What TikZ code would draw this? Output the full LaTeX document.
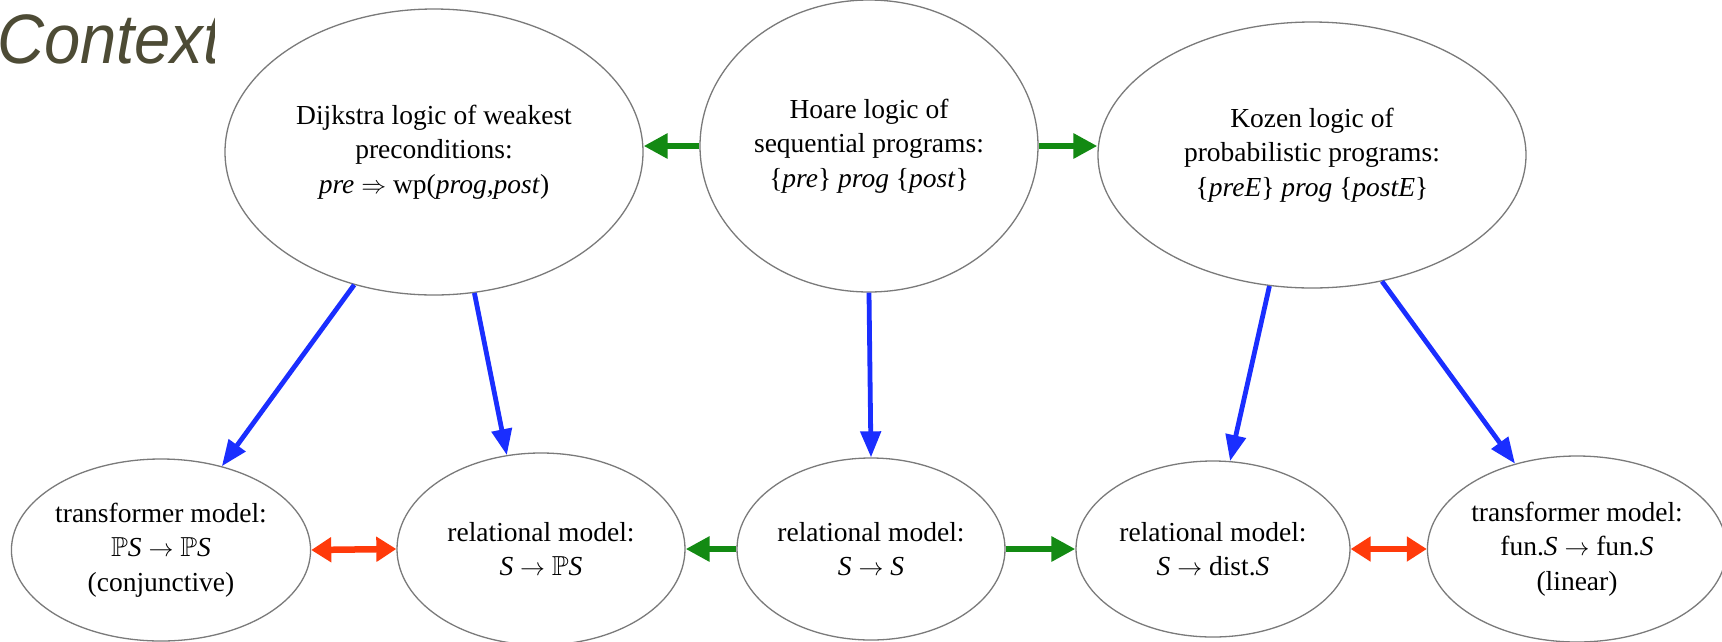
\documentclass[tikz,border=0pt]{standalone}
\usepackage{fontspec}
\usepackage{amssymb}
\usepackage{graphicx}
\setmainfont{Liberation Serif}
\newfontfamily\ctxfont{Liberation Sans}
\usetikzlibrary{shapes.geometric,arrows.meta}
\definecolor{ctxcol}{HTML}{4D4B35}
\definecolor{bluc}{HTML}{1A2EFF}
\definecolor{grnc}{HTML}{138A13}
\definecolor{redc}{HTML}{FF3A0A}
\definecolor{edgec}{HTML}{7A7A7A}
\begin{document}
\begin{tikzpicture}[x=1pt,y=-1pt,
  ell/.style={ellipse, draw=edgec, line width=1.3pt, fill=white, inner sep=0pt, align=center,
    font=\fontsize{27.5}{34.5}\selectfont},
  blu/.style={draw=bluc, line width=4.8pt, -{Triangle[length=26pt,width=20pt]}},
  grn/.style={draw=grnc, line width=6.5pt, -{Triangle[length=24pt,width=24pt]}},
  rdd/.style={draw=redc, line width=6.5pt, {Triangle[length=20pt,width=24pt]}-{Triangle[length=20pt,width=24pt]}}]
\useasboundingbox (0,0) rectangle (1722,641);
\fill[white] (0,0) rectangle (1722,641);
\begin{scope}
  \clip (0,0) rectangle (214,110);
  \node[anchor=base west, inner sep=0pt, text=ctxcol, font=\ctxfont\itshape\fontsize{70}{70}\selectfont] (ctx) at (-3,63) {\scalebox{0.93}[1]{Context}};
\end{scope}
% top row
\node[ell, minimum width=418pt, minimum height=286pt] (dij) at (434,152)
  {Dijkstra logic of weakest\\ preconditions:\\ \textit{pre} $\Rightarrow$ wp(\textit{prog,post})};
\node[ell, minimum width=338pt, minimum height=292pt] (hoa) at (869,146)
  {Hoare logic of\\ sequential programs:\\ \{\textit{pre}\} \textit{prog} \{\textit{post}\}};
\node[ell, minimum width=428pt, minimum height=266pt] (koz) at (1312,155)
  {Kozen logic of\\ probabilistic programs:\\ \{\textit{preE}\} \textit{prog} \{\textit{postE}\}};
% bottom row
\node[ell, minimum width=296pt, minimum height=182pt] (tl) at (161,550)
  {transformer model:\\ $\mathbb{P}$\textit{S} $\rightarrow$ $\mathbb{P}$\textit{S}\\ (conjunctive)};
\node[ell, minimum width=288pt, minimum height=192pt] (rp) at (541,549)
  {relational model:\\ \textit{S} $\rightarrow$ $\mathbb{P}$\textit{S}};
\node[ell, minimum width=268pt, minimum height=182pt] (rs) at (871,549)
  {relational model:\\ \textit{S} $\rightarrow$ \textit{S}};
\node[ell, minimum width=274pt, minimum height=176pt] (rd) at (1213,549)
  {relational model:\\ \textit{S} $\rightarrow$ dist.\textit{S}};
\node[ell, minimum width=288pt, minimum height=186pt] (tr) at (1577,549)
  {transformer model:\\ fun.\textit{S} $\rightarrow$ fun.\textit{S}\\ (linear)};
% top green arrows
\draw[grn] (hoa.west) -- (hoa.west -| dij.east);
\draw[grn] (hoa.east) -- (hoa.east -| koz.west);
% blue arrows
\draw[blu] (dij.239) -- (tl.54);
\draw[blu] (dij.286) -- (rp.110);
\draw[blu] (hoa.270) -- (rs.90);
\draw[blu] (koz.252) -- (rd.79);
\draw[blu] (koz.299) -- (tr.126);
% bottom arrows
\draw[rdd] (tl.east) -- (rp.west);
\draw[grn] (rs.west) -- (rp.east);
\draw[grn] (rs.east) -- (rd.west);
\draw[rdd] (rd.east) -- (tr.west);
\end{tikzpicture}
\end{document}
